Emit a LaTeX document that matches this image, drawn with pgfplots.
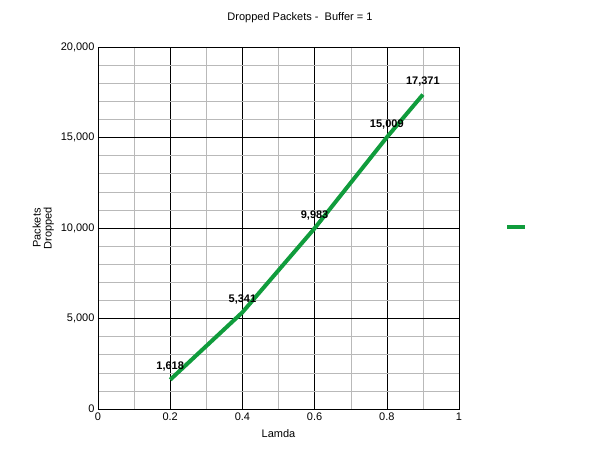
\documentclass[border=0pt]{standalone}
\usepackage{pgfplots}
\pgfplotsset{compat=1.18}
\usepackage{fontspec}
\setmainfont{Liberation Sans}
\definecolor{lg}{HTML}{109C3C}
\begin{document}
\begin{tikzpicture}[x=1pt,y=1pt]
\path (0,0) rectangle (600,463);
\node at (300,445) {\fontsize{11}{13}\selectfont Dropped Packets -\ \ Buffer = 1};
\begin{axis}[at={(98pt,54pt)},anchor=south west,scale only axis,width=361pt,height=362pt,
  xmin=0,xmax=1,ymin=0,ymax=20000,
  xtick={0,0.2,...,1},minor xtick={0.1,0.3,0.5,0.7,0.9},
  ytick={0,5000,10000,15000,20000},minor ytick={1000,2000,...,19000},
  grid=both,major grid style={black,line width=0.6pt},minor grid style={gray!55},
  axis line style={black},tick style={draw=none},
  ticklabel style={font=\fontsize{11}{13}\selectfont},
  /pgf/number format/assume math mode=true,
  scaled y ticks=false,yticklabel style={/pgf/number format/1000 sep={,}},
  xticklabel={\pgfmathprintnumber[fixed]{\tick}},
  xlabel={Lamda},xlabel style={font=\fontsize{11}{13}\selectfont,yshift=-2pt},
  ylabel={\shortstack{Packets\\Dropped}},ylabel style={font=\fontsize{11}{13}\selectfont,yshift=0pt},
  nodes near coords,point meta=explicit symbolic,
  every node near coord/.append style={font=\bfseries\fontsize{11}{13}\selectfont,text=black,anchor=south,yshift=3pt},
  legend style={at={(420pt,182pt)},anchor=center,draw=none,fill=none,font=\fontsize{1}{1}\selectfont},
  legend image post style={line width=4pt},
  clip=false]
\addplot[color=lg,line width=4pt,no marks] coordinates {
(0.2,1618)[1,618] (0.4,5341)[5,341] (0.6,9983)[9,983] (0.8,15009)[15,009] (0.9,17371)[17,371]};
\addlegendentry{}
\end{axis}
\end{tikzpicture}
\end{document}
